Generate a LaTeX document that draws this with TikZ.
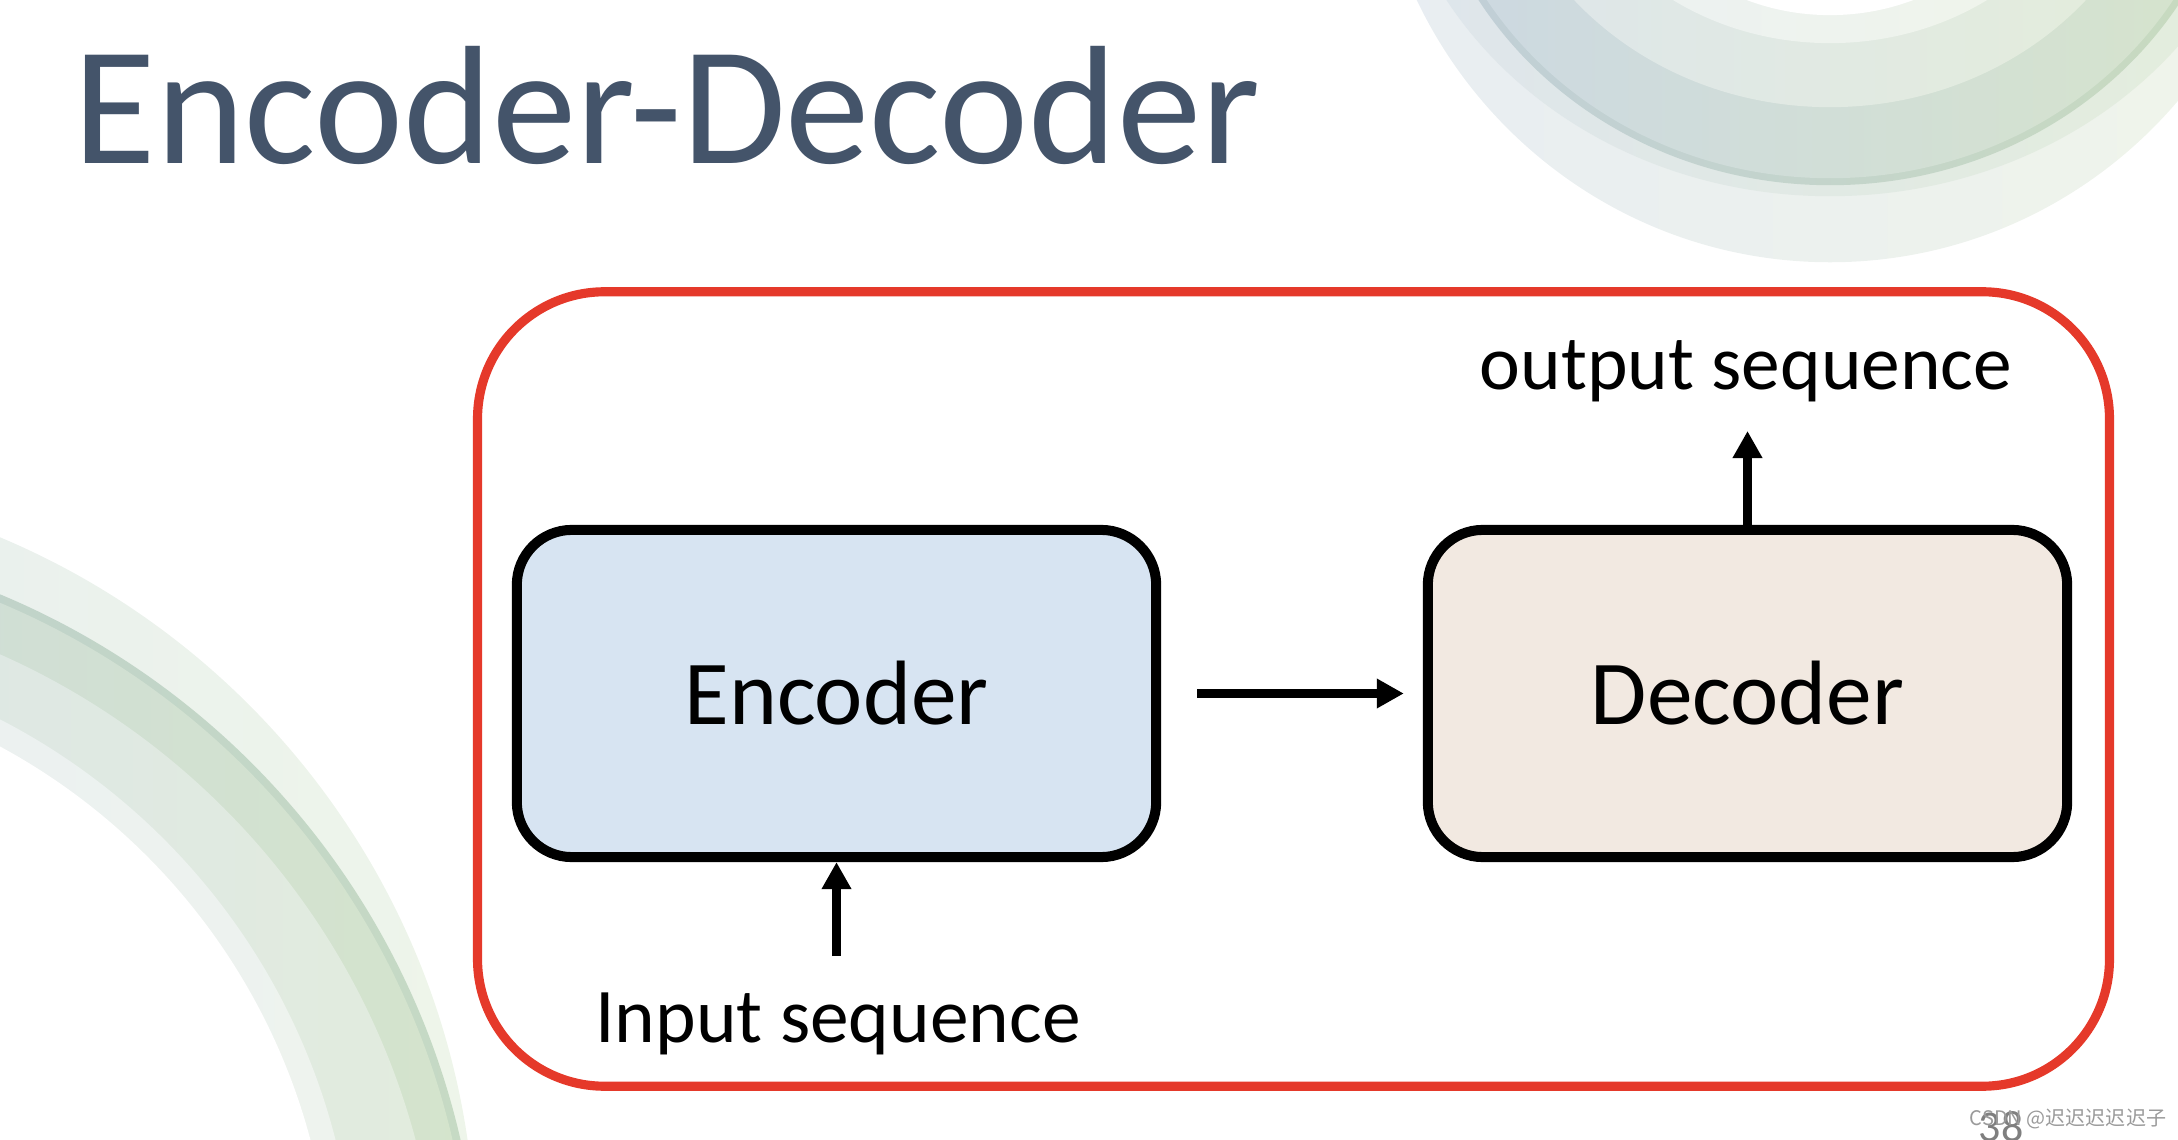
\documentclass[tikz,border=0pt]{standalone}
\usepackage{fontspec}
\setmainfont{Carlito}
\newfontfamily\cjkfont{Noto Sans CJK SC}
\usetikzlibrary{arrows.meta}
\definecolor{titlec}{HTML}{44546A}
\definecolor{redc}{HTML}{E5392A}
\definecolor{encfill}{HTML}{D7E4F2}
\definecolor{decfill}{HTML}{F2E9E1}
\definecolor{pggray}{HTML}{7F7F7F}
\definecolor{wmgray}{HTML}{9A9A9A}
\begin{document}
\begin{tikzpicture}[x=0.01cm,y=-0.01cm,
  box/.style={draw=black, line width=2.85pt, rounded corners=0.55cm, minimum width=6.39cm, minimum height=3.27cm, inner sep=0pt, font=\fontsize{26}{30}\selectfont},
  lbl/.style={font=\fontsize{22}{26}\selectfont, inner sep=0pt, anchor=base},
  arr/.style={line width=2.65pt, -{Triangle[length=0.27cm,width=0.28cm]}}]
\useasboundingbox (0,0) rectangle (2178,1140);
\begin{scope}
\clip (0,0) rectangle (2178,1140);
% top-right decoration
\shade[left color={rgb,255:red,232;green,237;blue,242}, right color={rgb,255:red,240;green,245;blue,234}] (1830,-200) ellipse [x radius=4.58cm, y radius=4.62cm];
\shade[left color={rgb,255:red,222;green,229;blue,236}, right color={rgb,255:red,228;green,238;blue,220}] (1830,-200) ellipse [x radius=4.44cm, y radius=3.96cm];
\shade[left color={rgb,255:red,192;green,206;blue,216}, right color={rgb,255:red,200;green,219;blue,190}] (1830,-200) ellipse [x radius=4.11cm, y radius=3.85cm];
\shade[left color={rgb,255:red,204;green,216;blue,226}, right color={rgb,255:red,214;green,228;blue,204}] (1830,-200) ellipse [x radius=4.04cm, y radius=3.78cm];
\shade[left color={rgb,255:red,222;green,230;blue,234}, right color={rgb,255:red,228;green,237;blue,219}] (1830,-200) ellipse [x radius=3.37cm, y radius=3.07cm];
\shade[left color={rgb,255:red,236;green,241;blue,242}, right color={rgb,255:red,240;green,245;blue,234}] (1830,-200) ellipse [x radius=2.76cm, y radius=2.43cm];
\fill[white] (1830,-200) ellipse [x radius=2.26cm, y radius=2.15cm];
% bottom-left decoration
\shade[left color={rgb,255:red,226;green,232;blue,244}, right color={rgb,255:red,238;green,245;blue,234}] (-300,1252.9) circle [radius=7.753cm];
\shade[left color={rgb,255:red,180;green,196;blue,214}, right color={rgb,255:red,198;green,218;blue,196}] (-300,1314.8) circle [radius=7.798cm];
\shade[left color={rgb,255:red,200;green,210;blue,232}, right color={rgb,255:red,212;green,228;blue,204}] (-300,1314.8) circle [radius=7.72cm];
\shade[left color={rgb,255:red,214;green,222;blue,240}, right color={rgb,255:red,226;green,236;blue,222}] (-300,1331.8) circle [radius=7.403cm];
\shade[left color={rgb,255:red,230;green,236;blue,246}, right color={rgb,255:red,238;green,243;blue,238}] (-300,1302.9) circle [radius=6.556cm];
\fill[white] (-300,1302.4) circle [radius=6.312cm];
\end{scope}
% title
\node[anchor=base west, inner sep=0pt, text=titlec, font=\fontsize{48}{50}\selectfont] (title) at (73,164) {Encoder-Decoder};
% red frame
\node[draw=redc, line width=2.6pt, rounded corners=1.27cm, minimum width=16.31cm, minimum height=7.94cm, inner sep=0pt] (frame) at (1293.5,689) {};
% boxes
\node[box, fill=encfill] (enc) at (836.5,693.5) {Encoder};
\node[box, fill=decfill] (dec) at (1747.5,693.5) {Decoder};
% labels
\node[lbl] (inlbl) at (838,1042) {Input sequence};
\node[lbl] (outlbl) at (1746,390) {output sequence};
\coordinate (inTail) at (836.5,956);
\coordinate (outHead) at (1747.5,431);
% connectors
\draw[arr, shorten <=0.36cm, shorten >=0.19cm] (enc) -- (dec);
\draw[arr] (inTail) -- (enc.south);
\draw[arr] (dec.north) -- (outHead);
% page number and watermark
\node[text=pggray, font=\fontsize{12.5}{14}\selectfont, anchor=base, inner sep=0pt] (pg) at (2001,1141) {38};
\node[text=wmgray, font=\cjkfont\fontsize{5.7}{7}\selectfont, inner sep=0pt] (wm) at (2068,1119) {CSDN @迟迟迟迟迟子};
\end{tikzpicture}
\end{document}
